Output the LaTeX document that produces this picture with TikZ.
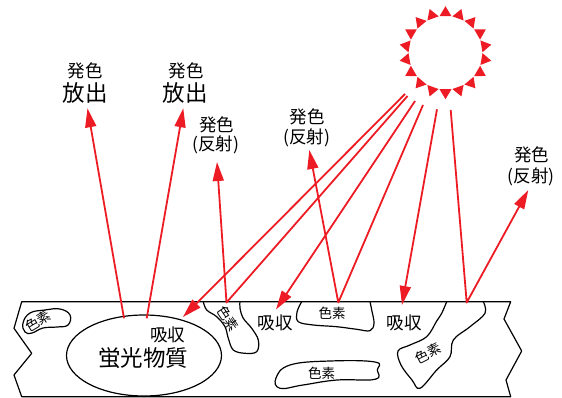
\documentclass[tikz,border=0pt]{standalone}
\usepackage{fontspec}
\newfontfamily\jp{Noto Sans CJK JP}
\usetikzlibrary{arrows.meta,shapes.geometric}
\definecolor{rayred}{RGB}{237,28,36}
\begin{document}
\begin{tikzpicture}[x=1pt,y=-1pt,
  ray/.style={draw=rayred, line width=1.8pt, line join=round},
  rayarrow/.style={ray, -{Triangle[length=19pt,width=11pt]}},
  outline/.style={draw=black, line width=1.2pt, line join=round},
  lbl/.style={font=\jp\fontsize{17.5}{17.5}\selectfont, inner sep=0pt},
  biglbl/.style={font=\jp\fontsize{22.5}{22.5}\selectfont, inner sep=0pt},
  pig/.style={font=\jp\fontsize{13.5}{13.5}\selectfont, inner sep=0pt},
]
\useasboundingbox (0,0) rectangle (562,398);

% ---- surface layer ----
\draw[outline] (21.7,301.7) -- (510.7,301.7) -- (504,319) -- (521.7,351)
  -- (506,380) -- (510.7,396.7) -- (21.7,396.7) -- (14,375) -- (31.7,353.3)
  -- (14,328.3) -- cycle;

% fluorescent substance
\node[outline, ellipse, minimum width=155pt, minimum height=81pt, inner sep=0pt]
  (fluo) at (144,355.5) {};
\node[lbl] (fluoabs) at (167.7,335) {吸収};
\node[biglbl] (fluoname) at (143,358) {蛍光物質};

% pigment grains
\draw[outline] plot[smooth cycle, tension=0.7] coordinates {
  (23,323) (30,313) (45,310) (60,309) (70,315) (68,325) (57,327) (43,328) (32,333) (25,332)};
\node[pig, rotate=31] (pig1) at (38,321.5) {色素};

\draw[outline] plot[smooth, tension=0.6] coordinates {
  (203.3,301.7) (206.7,310) (216.7,316.7) (225,326.7) (228.3,338.3) (233.3,350)
  (245,353.3) (256.7,351.7) (258.3,340) (251.7,328.3) (243.3,318.3) (240,308.3) (240,301.7)};
\node[pig, rotate=-56] (pig2) at (228,319) {色素};

\draw[outline] plot[smooth, tension=0.6] coordinates {
  (301.7,301.7) (297,312) (298.3,321.7) (313.3,325) (336.7,326.7) (356.7,329.3)
  (370,330.7) (374,323.3) (371.7,310) (370,301.7)};
\node[pig] (pig3) at (332,313.5) {色素};

\draw[outline] plot[smooth cycle, tension=0.7] coordinates {
  (276,378) (290,365) (330,361) (375,362) (377.3,370) (375,379.3) (337,380) (303,385) (280,388.3)};
\node[pig] (pig4) at (321.7,373.5) {色素};

\draw[outline] plot[smooth, tension=0.6] coordinates {
  (446.7,301.7) (441.7,313.3) (436.7,321) (426.7,336.7) (410,345) (398,351)
  (401,365) (412,380) (420,388.3) (436.7,370) (450,356.7) (453.3,340) (470,326.7)
  (485,313.3) (483.3,301.7)};
\node[pig, rotate=27] (pig5) at (428.3,353.3) {色素};

\node[lbl] (abs1) at (275,323) {吸収};
\node[lbl] (abs2) at (404,322.5) {吸収};

% ---- sun ----
\coordinate (sun) at (445.5,52.7);
\foreach \a in {10,30,...,350} {
  \fill[rayred] ([shift={(\a:46.5)}]sun) -- ([shift={(\a+9.3:37)}]sun)
    -- ([shift={(\a-9.3:37)}]sun) -- cycle;
}

% ---- labels ----
\node[lbl] (e1a) at (85,70.5) {発色};
\node[biglbl] (e1b) at (85,92.5) {放出};
\node[lbl] (e2a) at (186,70.5) {発色};
\node[biglbl] (e2b) at (185,92.5) {放出};
\node[lbl] (r1a) at (216.7,125) {発色};
\node[lbl] (r1b) at (215.8,145) {(反射)};
\node[lbl] (r2a) at (307,117) {発色};
\node[lbl] (r2b) at (306.7,137.5) {(反射)};
\node[lbl] (r3a) at (531.7,155) {発色};
\node[lbl] (r3b) at (531,176.7) {(反射)};

% ---- ray coordinates ----
\coordinate (sa) at (405,94);
\coordinate (sb) at (407.5,96);
\coordinate (sc) at (415,101);
\coordinate (sd) at (423,105);
\coordinate (se) at (437,109.3);
\coordinate (sf) at (450.7,110);

\coordinate (ta) at (183,317);
\coordinate (tc) at (276,309.5);
\coordinate (te) at (402,305);

\coordinate (pb) at (226.5,302.5);
\coordinate (pd) at (338.3,302.5);
\coordinate (pf) at (466.7,302.5);

\coordinate (ub) at (217,162);
\coordinate (ud) at (309.3,150);
\coordinate (uf) at (528.3,190);

\coordinate (f1) at (124,318.3);
\coordinate (f2) at (146.7,318.3);
\coordinate (g1) at (87.5,108.3);
\coordinate (g2) at (183.3,108.3);

% ---- rays ----
\draw[rayarrow] (sa) -- (ta);
\draw[rayarrow] (sc) -- (tc);
\draw[rayarrow] (se) -- (te);
\draw[rayarrow] (sb) -- (pb) -- (ub);
\draw[rayarrow] (sd) -- (pd) -- (ud);
\draw[rayarrow] (sf) -- (pf) -- (uf);
\draw[rayarrow] (f1) -- (g1);
\draw[rayarrow] (f2) -- (g2);
\end{tikzpicture}
\end{document}
